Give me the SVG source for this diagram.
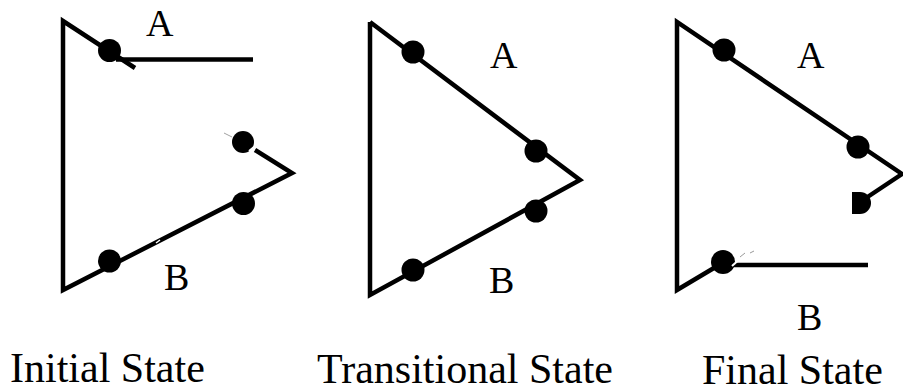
<svg xmlns="http://www.w3.org/2000/svg" width="903" height="389" viewBox="0 0 903 389">
<style>
.e{stroke:#000;stroke-width:4.5;fill:none;stroke-linecap:butt;stroke-linejoin:miter}
.d{fill:#000}
.t{font-family:"Liberation Serif","Times New Roman",serif;fill:#000}
.lb{font-size:38px}
.cap{font-size:42px}
</style>
<rect width="903" height="389" fill="#fff"/>
<g id="initial">
  <g id="initial-edges">
    <polyline class="e" points="135,68 63,21 63,290 292,173 255,150"/>
    <line class="e" x1="116" y1="59.5" x2="253" y2="59.5"/>
    <line x1="156" y1="243" x2="160" y2="240" stroke="#fff" stroke-width="1.5"/>
  </g>
  <circle class="d" cx="109.5" cy="50.5" r="11.5"/>
  <circle class="d" cx="243" cy="142" r="11"/>
  <line x1="249" y1="151" x2="254" y2="147" stroke="#fff" stroke-width="2"/>
  <line x1="224" y1="133" x2="232" y2="137" stroke="#888" stroke-width="0.8"/>
  <circle class="d" cx="243.5" cy="203.5" r="11.5"/>
  <circle class="d" cx="109.5" cy="261" r="11.5"/>
  <text class="t lb" x="146" y="36">A</text>
  <text class="t lb" x="164" y="290">B</text>
  <text class="t cap" x="10" y="382">Initial State</text>
</g>
<g id="transitional">
  <polyline class="e" points="370,22 580,180 370,295 370,22"/>
  <circle class="d" cx="413" cy="52" r="11.5"/>
  <circle class="d" cx="536" cy="151" r="11.5"/>
  <circle class="d" cx="536" cy="211" r="11.5"/>
  <circle class="d" cx="413" cy="270" r="11.5"/>
  <text class="t lb" x="490" y="68">A</text>
  <text class="t lb" x="489" y="293">B</text>
  <text class="t cap" x="317" y="383">Transitional State</text>
</g>
<g id="final">
  <polyline class="e" points="866,198 902,174 677,22 677,290 724,262"/>
  <line class="e" x1="730" y1="265" x2="868" y2="265"/>
  <circle class="d" cx="724" cy="50" r="11.5"/>
  <circle class="d" cx="858" cy="147" r="11.5"/>
  <path class="d" d="M852,192 L860,192 A11,11 0 0 1 860,214 L852,214 Z"/>
  <circle class="d" cx="723" cy="262" r="12"/>
  <line x1="732" y1="266" x2="742" y2="257" stroke="#fff" stroke-width="2"/>
  <line x1="740" y1="257" x2="745" y2="253" stroke="#999" stroke-width="1"/>
  <line x1="750" y1="253" x2="754" y2="251" stroke="#999" stroke-width="1"/>
  <text class="t lb" x="797" y="68">A</text>
  <text class="t lb" x="797" y="330">B</text>
  <text class="t cap" x="702" y="384">Final State</text>
</g>
</svg>
